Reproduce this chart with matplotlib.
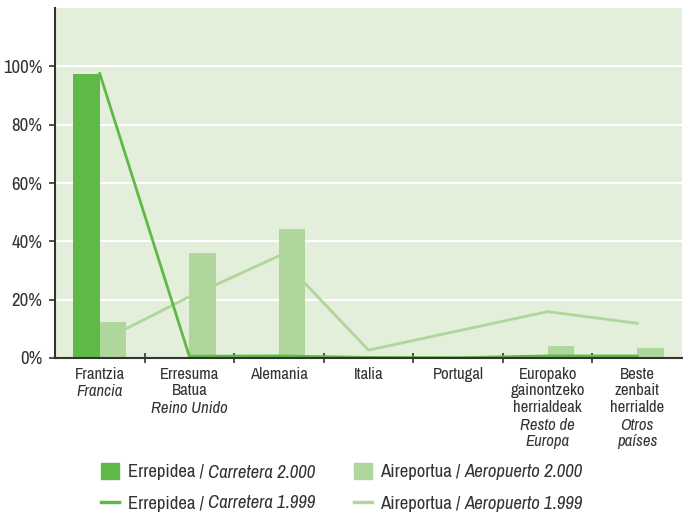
import matplotlib
matplotlib.use("Agg")
import matplotlib.pyplot as plt
import numpy as np
from matplotlib.patches import Rectangle
from matplotlib.lines import Line2D
from matplotlib import font_manager

# ---- data ----
cat_eu = ["Frantzia", "Erresuma\nBatua", "Alemania", "Italia", "Portugal",
          "Europako\ngainontzeko\nherrialdeak", "Beste\nzenbait\nherrialde"]
cat_es = ["Francia", "Reino Unido", "", "", "", "Resto de\nEuropa", "Otros\npaíses"]
carretera_2000 = [97.5, 0.5, 0.5, 0.2, 0.2, 0.5, 0.5]
aeropuerto_2000 = [12.4, 36.0, 44.3, 0.0, 0.0, 4.1, 3.4]
carretera_1999 = [97.5, 0.6, 0.7, 0.2, 0.1, 0.7, 0.7]
aeropuerto_1999 = [5.5, 21.0, 35.0, 2.7, 9.3, 15.9, 11.9]
yticks = [0, 20, 40, 60, 80, 100]
leg_eu = ["Errepidea / ", "Aireportua / ", "Errepidea / ", "Aireportua / "]
leg_es = ["Carretera 2.000", "Aeropuerto 2.000", "Carretera 1.999", "Aeropuerto 1.999"]

# ---- style ----
names = {f.name for f in font_manager.fontManager.ttflist}
FONT = "Archivo Narrow" if "Archivo Narrow" in names else "DejaVu Sans"
plt.rcParams['font.family'] = [FONT, 'DejaVu Sans']
if FONT == "DejaVu Sans":
    plt.rcParams['font.stretch'] = 'condensed'
DARK = "#5fb946"
LIGHT = "#afd69b"
BG = "#e3eedb"
TXT = "#333333"

W, H = 683, 514
fig = plt.figure(figsize=(W / 100, H / 100), dpi=100)
ax = fig.add_axes([55 / W, 1 - 358 / H, (682 - 55) / W, (358 - 8) / H])
ax.set_facecolor(BG)

x = np.arange(len(cat_eu))
bw = 0.296
ax.bar(x - bw / 2, carretera_2000, width=bw, color=DARK, zorder=3)
ax.bar(x + bw / 2, aeropuerto_2000, width=bw, color=LIGHT, zorder=3)
ax.plot(x, aeropuerto_1999, color=LIGHT, lw=2, zorder=2)
ax.plot(x, carretera_1999, color=DARK, lw=2, zorder=4)

ax.set_xlim(-0.5, len(cat_eu) - 0.5)
ax.set_ylim(0, 120)
ax.set_yticks(yticks)
ax.set_yticklabels([f"{v}%" for v in yticks], fontsize=13.5, color=TXT)
ax.grid(axis='y', color='white', lw=1.5, zorder=1)
ax.set_axisbelow(True)
ax.set_xticks(np.arange(0.5, len(cat_eu) - 0.5, 1.0))
ax.set_xticklabels([])
ax.tick_params(axis='x', direction='inout', length=7, width=1.2, color=TXT)
ax.tick_params(axis='y', direction='out', length=4, width=1.2, color=TXT, pad=5)
for s in ['top', 'right']:
    ax.spines[s].set_visible(False)
for s in ['left', 'bottom']:
    ax.spines[s].set_color(TXT)
    ax.spines[s].set_linewidth(1.5)
    ax.spines[s].set_zorder(5)

fig.canvas.draw()
renderer = fig.canvas.get_renderer()

LS = 1.12
LINE_PT = 12.2
TOP = -6.5
for i, (eu, es) in enumerate(zip(cat_eu, cat_es)):
    ax.annotate(eu, xy=(i, 0), xycoords=('data', 'axes fraction'),
                xytext=(0, TOP), textcoords='offset points',
                ha='center', va='top', fontsize=12, color=TXT, linespacing=LS)
    if es:
        n = eu.count("\n") + 1
        ax.annotate(es, xy=(i, 0), xycoords=('data', 'axes fraction'),
                    xytext=(0, TOP - n * LINE_PT), textcoords='offset points',
                    ha='center', va='top', fontsize=12, color=TXT,
                    style='italic', linespacing=LS)

def fx(px):
    return px / W
def fy(py):
    return 1 - py / H

rows = [471, 502]
cols = [(101, 128), (354, 380)]
colors = [DARK, LIGHT, DARK, LIGHT]
for k in range(4):
    r, c = divmod(k, 2)
    xs, xt = cols[c]
    yc = rows[r]
    if r == 0:
        fig.add_artist(Rectangle((fx(xs), fy(yc + 8)), 18 / W, 16 / H,
                                 transform=fig.transFigure, color=colors[k]))
    else:
        fig.add_artist(Line2D([fx(xs), fx(xs + 18)], [fy(yc), fy(yc)],
                              transform=fig.transFigure, color=colors[k], lw=2.5))
    t1 = fig.text(fx(xt), fy(yc), leg_eu[k], ha='left', va='center_baseline',
                  fontsize=13.5, color=TXT)
    bb = t1.get_window_extent(renderer)
    fig.text(bb.x1 / W, fy(yc), leg_es[k], ha='left', va='center_baseline',
             fontsize=13.5, color=TXT, style='italic')

fig.savefig("out.png", dpi=100, facecolor='white')
